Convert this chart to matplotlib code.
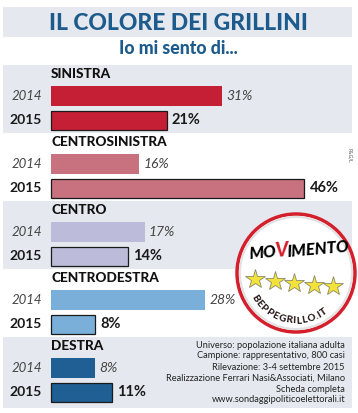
import matplotlib
matplotlib.use("Agg")
import matplotlib.pyplot as plt
from matplotlib.patches import Rectangle, Circle
from matplotlib.transforms import Affine2D
import numpy as np

# data
categories = ["SINISTRA", "CENTROSINISTRA", "CENTRO", "CENTRODESTRA", "DESTRA"]
years = ["2014", "2015"]
values_2014 = [31, 16, 17, 28, 8]
values_2015 = [21, 46, 14, 8, 11]
bar_colors = ["#c51f35", "#c8727f", "#bcbbd9", "#7aafd9", "#1f5f94"]

title = "IL COLORE DEI GRILLINI"
subtitle = "Io mi sento di..."
note_lines = ["Universo: popolazione italiana adulta",
              "Campione: rappresentativo, 800 casi",
              "Rilevazione: 3-4 settembre 2015",
              "Realizzazione Ferrari Nasi&Associati, Milano",
              "Scheda completa",
              "www.sondaggipoliticoelettorali.it"]

W, H = 358, 413
TITLE_BLUE = "#1d5b8c"
BAND = "#e5e9ef"
LATO = ["Lato", "DejaVu Sans"]

fig = plt.figure(figsize=(W / 100, H / 100), dpi=100)
ax = fig.add_axes([0, 0, 1, 1])
# x axis in percent: 0% sits at pixel 51, 5.5 px per point
x0, scale = 51, 5.5
ax.set_xlim(-x0 / scale, (W - x0) / scale)
ax.set_ylim(H, 0)
ax.axis("off")

# pixel transform (origin top-left)
pix = Affine2D().scale(1 / W, -1 / H).translate(0, 1) + fig.transFigure

# title band
ax.add_patch(Rectangle((3, 7), 349, 30, transform=pix, color=BAND, lw=0, zorder=0))
ax.text(178, 23, title, transform=pix, ha="center", va="center", fontsize=16.5,
        fontweight="black", color=TITLE_BLUE, family=LATO)
ax.text(178, 48, subtitle, transform=pix, ha="center", va="center", fontsize=12.8,
        fontweight="black", color=TITLE_BLUE, family=LATO)

group_h = 68
top = 65
for i, cat in enumerate(categories):
    g = top + i * group_h
    if i % 2 == 0:
        h = group_h if i < len(categories) - 1 else 408 - g
        ax.add_patch(Rectangle((3, g), 349, h, transform=pix, color=BAND, lw=0, zorder=0))
    ax.text(51, g + 9, cat, transform=pix, ha="left", va="center", fontsize=9.8,
            fontweight="black", color="#111111", family=LATO)
    y14 = g + 31
    y15 = g + 55
    ax.barh(y14, values_2014[i], left=0, height=20, color=bar_colors[i], lw=0, zorder=2)
    ax.barh(y15, values_2015[i], left=0, height=19, color=bar_colors[i],
            edgecolor="#1a1a1a", lw=0.9, zorder=2)
    ax.text(42, y14, years[0], transform=pix, ha="right", va="center", fontsize=9.5,
            style="italic", color="#444444", family=LATO)
    ax.text(42, y15, years[1], transform=pix, ha="right", va="center", fontsize=10,
            fontweight="bold", color="#1a1a1a", family=LATO)
    ax.text(values_2014[i] + 0.8, y14, f"{values_2014[i]}%", ha="left", va="center",
            fontsize=10, style="italic", color="#444444", family=LATO, zorder=3)
    ax.text(values_2015[i] + 1.0, y15, f"{values_2015[i]}%", ha="left", va="center",
            fontsize=10.5, fontweight="bold", color="#1a1a1a", family=LATO, zorder=3)

ax.text(349, 155, "P&G/L", transform=pix, ha="center", va="center", fontsize=3.5,
        rotation=-90, color="#555555")

# notes
for k, line in enumerate(note_lines):
    ax.text(345, 345 + k * 11, line, transform=pix, ha="right", va="center",
            fontsize=6.7, color="#222222", family=LATO)

# logo
cx, cy, r = 296, 273, 59
rot = -5
ax.add_patch(Circle((cx, cy), r, transform=pix, facecolor="white", edgecolor="#d4202c",
                    lw=2.5, zorder=5))
ax.add_patch(Circle((cx, cy), r - 3, transform=pix, facecolor="none", edgecolor="#e2e2e2",
                    lw=1.5, zorder=5))


def local(dx, dy):
    a = np.deg2rad(rot)
    return (cx + dx * np.cos(a) + dy * np.sin(a), cy - dx * np.sin(a) + dy * np.cos(a))


logo_font = dict(transform=pix, va="center", fontweight="black", style="italic",
                 rotation=-rot, rotation_mode="anchor", family=LATO, zorder=6)
px_, py_ = local(-22, -20)
ax.text(px_, py_, "MO", ha="right", fontsize=12, **logo_font)
px_, py_ = local(-16.5, -22)
ax.text(px_, py_, "V", ha="center", fontsize=14.5, color="#d4202c", **logo_font)
px_, py_ = local(-11, -20)
ax.text(px_, py_, "IMENTO", ha="left", fontsize=12, **logo_font)

for s in range(5):
    sx, sy = local(-40 + s * 19.5, 10)
    ax.plot(sx, sy, marker="*", markersize=15, color="#f3e23a", markeredgecolor="#8a8a6a",
            markeredgewidth=0.6, transform=pix, zorder=6)

arc = "BEPPEGRILLO.IT"
widths = {"B": .62, "E": .56, "P": .6, "G": .7, "R": .62, "I": .3, "L": .52,
          "O": .72, ".": .28, "T": .56}
w = np.array([widths[c] for c in arc])
pos = np.cumsum(w) - w / 2
angles = 212 + (pos - pos[0]) / (pos[-1] - pos[0]) * (305 - 212)
for ch, ang in zip(arc, angles):
    a = np.deg2rad(ang)
    tx = cx + 48 * np.cos(a)
    ty = cy - 48 * np.sin(a)
    ax.text(tx, ty, ch, transform=pix, ha="center", va="center", fontsize=7.2,
            fontweight="black", rotation=ang + 90, color="#2a1a1a",
            family=LATO, zorder=6)

fig.savefig("out.png", dpi=100, facecolor="white")
